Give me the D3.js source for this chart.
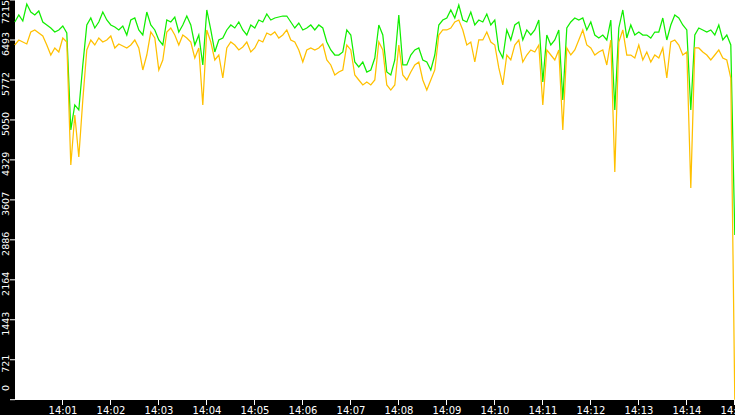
<!DOCTYPE html>
<html><head><meta charset="utf-8">
<script src="https://cdn.jsdelivr.net/npm/d3@7/dist/d3.min.js"></script>
<style>html,body{margin:0;padding:0;background:#000;overflow:hidden}svg{display:block}</style>
</head><body>
<svg id="c" width="735" height="415"></svg>
<script>
// sampling: one sample every 5 seconds starting 14:00:00
const startTime = "2020-01-01T14:00:00";
const stepSeconds = 5;
const endTime = "2020-01-01T14:15:00";
const yTickValues = [0,721,1443,2164,2886,3607,4329,5050,5772,6493,7215];
const xTickLabels = ["14:01","14:02","14:03","14:04","14:05","14:06","14:07","14:08","14:09","14:10","14:11","14:12","14:13","14:14","14:15"];
const greenSeries = [
6818,6944,6836,7143,6998,6944,7017,6818,6764,6710,6637,6674,6746,6619,4869,5320,5230,6042,6764,6890,
6710,6818,6998,6854,6764,6728,6674,6746,6583,6854,6890,6674,6583,6998,6764,6674,6493,6403,6854,6818,
6908,6637,6764,6926,6764,6403,6583,6042,7035,6674,6277,6493,6529,6674,6764,6710,6818,6674,6583,6764,
6710,6854,6818,6962,6854,6890,6908,6926,6926,6818,6710,6800,6674,6710,6764,6674,6764,6710,6457,6313,
6222,6222,6277,6674,6583,6096,6006,6096,5915,5952,6168,6764,6583,5915,5861,6132,6944,6042,6042,6222,
6313,6349,6132,6096,5952,6222,6764,6854,6890,7035,6890,7125,6854,6818,6998,6764,6854,6818,6962,6764,
6854,6313,6168,6674,6493,6764,6818,6493,6674,6583,6674,6854,5735,6583,6403,6493,6674,5410,6710,6818,
6890,6854,6890,6674,6818,6583,6529,6583,6493,6854,5230,6710,7035,6529,6764,6583,6637,6583,6583,6529,
6637,6637,6890,6493,6764,6944,6890,6764,6674,5230,6583,6710,6674,6637,6674,6583,6764,6493,6583,6403,
2973];
const orangeSeries = [
6403,6493,6457,6421,6637,6674,6619,6565,6403,6222,6349,6277,6529,6457,4237,5139,4381,5410,6313,6493,
6403,6529,6457,6493,6565,6349,6421,6385,6349,6403,6493,6349,5952,6222,6637,6529,5952,6132,6637,6710,
6583,6403,6583,6529,6457,6168,6349,5320,6674,6457,6132,6222,5807,6349,6457,6403,6313,6367,6457,6277,
6349,6493,6457,6619,6583,6637,6529,6583,6674,6493,6457,6313,6096,6313,6349,6313,6349,6421,6132,6042,
5861,5915,5952,6403,6313,5861,5771,5681,5735,5681,5771,6457,6313,5681,5590,5681,6403,5861,5771,5915,
6042,6096,5771,5590,5771,5952,6583,6674,6674,6710,6818,6854,6674,6403,6457,6096,6493,6493,6637,6457,
6403,5988,5681,6222,6132,6403,6493,6096,6222,6313,6277,6403,5320,6313,6222,6132,6313,4869,6349,6222,
6313,6493,6674,6403,6349,6222,6277,6313,6042,6493,4110,6457,6674,6222,6222,6168,6403,6132,6277,6096,
6222,6168,6349,5807,6457,6493,6403,6222,6277,3822,6349,6349,6277,6222,6132,6222,6313,6168,6132,5807,
0];

const W = 735, H = 415;
const plotL = 14.8, plotT = 0, plotB = 399.7;
const svg = d3.select("#c");
svg.append("rect").attr("width", W).attr("height", H).attr("fill", "#000");
svg.append("rect").attr("x", 15).attr("y", 0).attr("width", W - 15).attr("height", 400).attr("fill", "#fff");

const t0 = new Date(startTime);
const times = greenSeries.map((_, i) => new Date(t0.getTime() + i * stepSeconds * 1000));
const x = d3.scaleTime().domain([t0, new Date(endTime)]).range([plotL, plotL + 720]);
const y = d3.scaleLinear().domain([0, 7215]).range([plotB, plotT]);

const line = d3.line().x((d, i) => x(times[i])).y(d => y(d));
svg.append("path").datum(greenSeries).attr("d", line).attr("fill", "none")
  .attr("stroke", "#11ee00").attr("stroke-width", 1.25);
svg.append("path").datum(orangeSeries).attr("d", line).attr("fill", "none")
  .attr("stroke", "#ffc000").attr("stroke-width", 1.25);

// y axis
const yAxis = svg.append("g");
const labelHalf = 12;
yTickValues.forEach(v => {
  const yy = y(v);
  yAxis.append("line").attr("x1", 10).attr("x2", 15).attr("y1", yy).attr("y2", yy)
    .attr("stroke", "#fff").attr("stroke-width", 1);
  const cy = Math.max(labelHalf, Math.min(400 - labelHalf, yy + 4));
  yAxis.append("text").text(String(v))
    .attr("transform", `translate(9,${cy}) rotate(-90)`)
    .attr("text-anchor", "middle")
    .attr("fill", "#fff").attr("font-family", "DejaVu Sans").attr("font-size", "9.5px");
});

// x axis
const xAxis = svg.append("g");
xTickLabels.forEach(lbl => {
  const [hh, mm] = lbl.split(":");
  const d = new Date(t0); d.setHours(+hh, +mm, 0, 0);
  const xx = Math.round(x(d)) - 0.5;
  xAxis.append("line").attr("x1", xx).attr("x2", xx).attr("y1", 400).attr("y2", 405)
    .attr("stroke", "#fff").attr("stroke-width", 1);
  xAxis.append("text").text(lbl).attr("x", xx + 0.5).attr("y", 414)
    .attr("text-anchor", "middle").attr("fill", "#fff")
    .attr("font-family", "DejaVu Sans").attr("font-size", "10px");
});
</script>
</body></html>
